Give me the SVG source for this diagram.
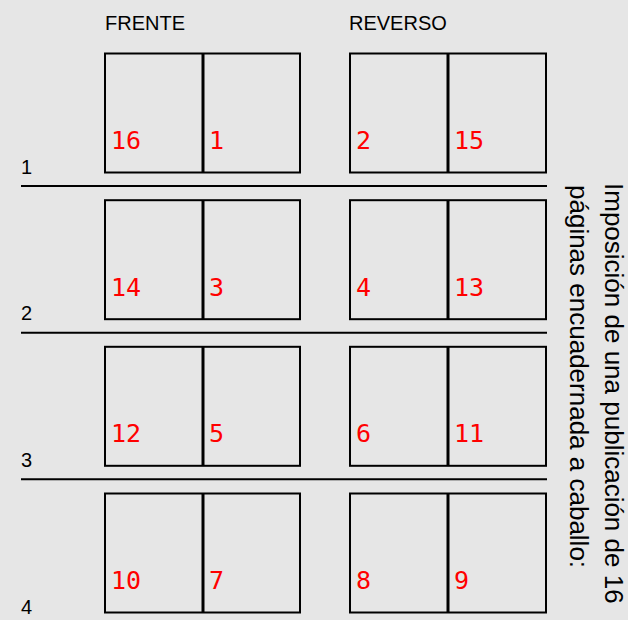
<svg xmlns="http://www.w3.org/2000/svg" width="628" height="620" viewBox="0 0 628 620">
<style>
.sheet{fill:none;stroke:#000;stroke-width:2}
.fold{stroke:#000;stroke-width:3}
.rule{stroke:#000;stroke-width:2}
.pg{font-family:"DejaVu Sans Mono",monospace;font-size:25px;fill:#ff0000}
.lbl{font-family:"Liberation Sans",Arial,sans-serif;font-size:20px;fill:#000}
.note{font-family:"Liberation Sans",Arial,sans-serif;font-size:26px;fill:#000}
</style>
<rect x="0" y="0" width="628" height="620" fill="#e6e6e6"/>
<g id="headers">
<text class="lbl" x="105" y="30">FRENTE</text>
<text class="lbl" x="349" y="30">REVERSO</text>
</g>
<g id="row-labels">
<text class="lbl" x="21" y="174">1</text>
<text class="lbl" x="21" y="320">2</text>
<text class="lbl" x="21" y="467">3</text>
<text class="lbl" x="21" y="614">4</text>
</g>
<g id="rules">
<line class="rule" x1="21" y1="186" x2="547" y2="186"/>
<line class="rule" x1="21" y1="332.7" x2="547" y2="332.7"/>
<line class="rule" x1="21" y1="479.3" x2="547" y2="479.3"/>
</g>
<g id="f1"><rect class="sheet" x="105" y="53.5" width="195" height="119"/><line class="fold" x1="203" y1="53.5" x2="203" y2="172.5"/><text class="pg" x="111" y="149">16</text><text class="pg" x="209" y="149">1</text></g>
<g id="r1"><rect class="sheet" x="350" y="53.5" width="196" height="119"/><line class="fold" x1="448" y1="53.5" x2="448" y2="172.5"/><text class="pg" x="356" y="149">2</text><text class="pg" x="454" y="149">15</text></g>
<g id="f2"><rect class="sheet" x="105" y="200.2" width="195" height="119"/><line class="fold" x1="203" y1="200.2" x2="203" y2="319.2"/><text class="pg" x="111" y="295.7">14</text><text class="pg" x="209" y="295.7">3</text></g>
<g id="r2"><rect class="sheet" x="350" y="200.2" width="196" height="119"/><line class="fold" x1="448" y1="200.2" x2="448" y2="319.2"/><text class="pg" x="356" y="295.7">4</text><text class="pg" x="454" y="295.7">13</text></g>
<g id="f3"><rect class="sheet" x="105" y="346.8" width="195" height="119"/><line class="fold" x1="203" y1="346.8" x2="203" y2="465.8"/><text class="pg" x="111" y="442.3">12</text><text class="pg" x="209" y="442.3">5</text></g>
<g id="r3"><rect class="sheet" x="350" y="346.8" width="196" height="119"/><line class="fold" x1="448" y1="346.8" x2="448" y2="465.8"/><text class="pg" x="356" y="442.3">6</text><text class="pg" x="454" y="442.3">11</text></g>
<g id="f4"><rect class="sheet" x="105" y="493.5" width="195" height="119"/><line class="fold" x1="203" y1="493.5" x2="203" y2="612.5"/><text class="pg" x="111" y="589">10</text><text class="pg" x="209" y="589">7</text></g>
<g id="r4"><rect class="sheet" x="350" y="493.5" width="196" height="119"/><line class="fold" x1="448" y1="493.5" x2="448" y2="612.5"/><text class="pg" x="356" y="589">8</text><text class="pg" x="454" y="589">9</text></g>
<g id="title">
<text class="note" transform="translate(605,183) rotate(90)">Imposición de una publicación de 16</text>
<text class="note" transform="translate(570,185) rotate(90)">páginas encuadernada a caballo:</text>
</g>
</svg>
